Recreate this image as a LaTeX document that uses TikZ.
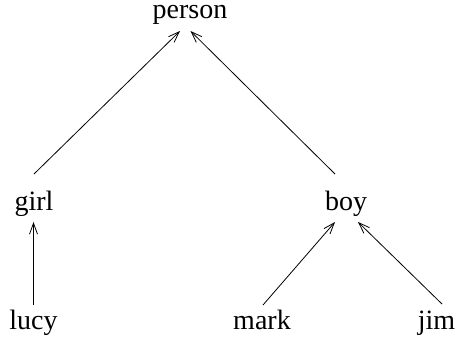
\documentclass[tikz,border=0pt]{standalone}
\usepackage{fontspec}
\setmainfont{Liberation Serif}
\usetikzlibrary{arrows.meta}
\begin{document}
\begin{tikzpicture}[x=1pt,y=-1pt,
  word/.style={inner sep=0pt,anchor=base,text height=13pt,text depth=6pt,
    font=\fontsize{28}{32}\selectfont},
  isa/.style={line width=0.8pt,-{Straight Barb[length=11pt,width=8pt,line width=0.8pt]}}]
\useasboundingbox (0,0) rectangle (462,341);
% class labels
\node[word] (person) at (190,18.5) {person};
\node[word] (girl) at (34,210.5) {girl};
\node[word] (boy) at (346,210.5) {boy};
\node[word] (lucy) at (33.5,329) {lucy};
\node[word] (mark) at (262,329) {mark};
\node[word] (jim) at (436.5,329) {jim};
% attachment points of the edges
\coordinate (person-l) at (180,31);
\coordinate (person-r) at (190.5,31);
\coordinate (girl-up) at (34,174);
\coordinate (girl-dn) at (33.5,222);
\coordinate (boy-up) at (335,174);
\coordinate (boy-l) at (335,222);
\coordinate (boy-r) at (358,222);
\coordinate (lucy-up) at (33.5,305);
\coordinate (mark-up) at (263,305);
\coordinate (jim-up) at (442,304);
% is-a edges
\draw[isa] (girl-up) -- (person-l);
\draw[isa] (boy-up) -- (person-r);
\draw[isa] (lucy-up) -- (girl-dn);
\draw[isa] (mark-up) -- (boy-l);
\draw[isa] (jim-up) -- (boy-r);
\end{tikzpicture}
\end{document}
